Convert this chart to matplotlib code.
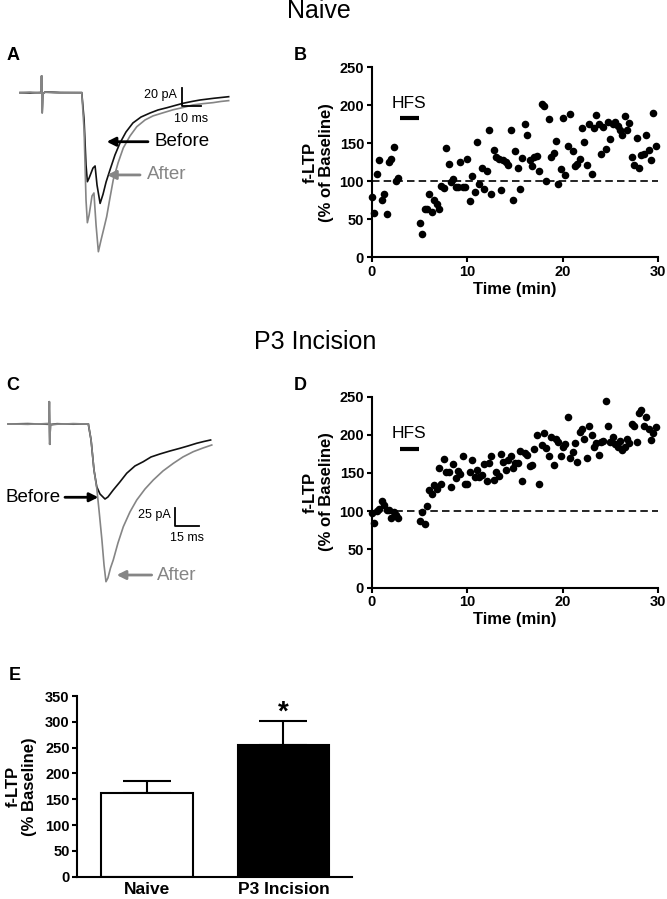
import matplotlib
matplotlib.use("Agg")
import matplotlib.pyplot as plt
import numpy as np

plt.rcParams['font.family'] = ['Liberation Sans', 'DejaVu Sans']

W, H = 667, 899
GREY = '#858585'

# ---- A: naive traces, time (ms) / current (pA)
a_before_t = [0, 5.2, 10.4, 11.0, 11.2, 11.5, 11.8, 13.0, 20.7, 32.0, 33.2, 34.2, 34.9, 35.8, 37.8,
              38.9, 39.9, 41.5, 43.0, 44.6, 46.6, 49.2, 51.8, 54.9, 58.5, 62.7, 67.4, 71.5, 76.2,
              80.3, 84.5, 89.1, 93.3, 100.5, 108.1]
a_before_i = [0, -0.3, 0.2, 0, 18.3, -21.9, -1.4, 0.8, 0.2, 0, -29.8, -79.0, -97.3, -93.3, -82.4,
              -80.1, -100.9, -121.0, -111.1, -97.6, -84.5, -68.1, -55.0, -43.0, -33.1, -26.6, -22.2,
              -18.9, -16.4, -14.0, -11.6, -9.6, -8.0, -6.1, -4.4]
a_after_t = [0, 5.2, 10.4, 11.0, 11.2, 11.5, 11.8, 13.0, 20.7, 32.0, 33.2, 34.2, 34.9, 35.8, 37.3,
             38.3, 39.4, 40.6, 42.0, 43.5, 44.9, 46.6, 48.3, 50.8, 53.5, 57.0, 60.5, 64.8, 68.9,
             74.1, 79.3, 84.5, 89.6, 94.8, 100.0, 104.1, 108.1]
a_after_i = [0, 0.4, -0.3, 0, 18.3, -21.9, -1.4, 0.5, -0.2, 0, -40.8, -117.3, -142.1, -133.7, -112.9,
             -109.6, -144.6, -173.8, -160.9, -147.9, -135.5, -115.1, -95.4, -76.8, -60.4, -47.3,
             -37.2, -29.8, -25.4, -22.0, -18.7, -16.2, -13.4, -12.0, -10.9, -9.6, -8.7]

# ---- C: P3 incision traces, time (ms) / current (pA)
c_before_t = [0, 12.0, 24.5, 25.1, 25.3, 25.6, 26.0, 30.0, 40.0, 49.4, 51.1, 52.9, 54.6, 56.6, 59.7,
              61.5, 64.8, 68.9, 73.1, 78.2, 83.3, 88.1, 93.6, 99.8, 106.0, 110.9, 116.3, 120.8, 124.9]
c_before_i = [0, 0.5, -0.4, 0, 32.0, -29.2, -1.0, 0.4, -0.3, 0, -23.0, -66.1, -90.1, -100.6, -107.8,
              -104.9, -94.8, -83.3, -70.8, -60.3, -54.2, -47.4, -43.1, -38.8, -34.9, -31.6, -27.7,
              -25.1, -23.0]
c_after_t = [0, 12.0, 24.5, 25.1, 25.3, 25.6, 26.0, 30.0, 40.0, 49.4, 51.1, 52.9, 54.6, 56.0, 57.8,
             59.1, 60.3, 61.5, 63.1, 64.8, 67.7, 71.0, 75.1, 79.3, 84.4, 89.5, 95.5, 101.9, 107.8,
             114.2, 120.2, 125.6]
c_after_i = [0, -0.4, 0.5, 0, 32.0, -29.2, -1.0, -0.3, 0.4, 0, -23.0, -66.1, -92.0, -123.6, -166.7,
             -202.6, -226.6, -221.3, -206.9, -195.4, -171.0, -147.6, -126.4, -109.2, -93.4, -80.5,
             -67.5, -56.5, -47.4, -39.8, -34.5, -30.2]

# ---- B / D: f-LTP time course (min, % of baseline)
ltp_time = [0.0, 0.28, 0.52, 0.8, 1.05, 1.29, 1.57, 1.81, 2.06, 2.3, 2.55, 2.79,
            5.02, 5.3, 5.55, 5.79, 6.03, 6.28, 6.56, 6.8, 7.05, 7.29, 7.53, 7.81, 8.06, 8.3, 8.55,
            8.79, 9.03, 9.28, 9.52, 9.77, 10.0, 10.25, 10.5, 10.78, 11.02, 11.27, 11.51, 11.79,
            12.03, 12.28, 12.52, 12.77, 13.01, 13.29, 13.53, 13.78, 14.02, 14.27, 14.55, 14.79,
            15.03, 15.28, 15.52, 15.77, 16.04, 16.29, 16.53, 16.78, 17.02, 17.27, 17.54, 17.79,
            18.03, 18.28, 18.52, 18.77, 19.04, 19.29, 19.53, 19.78, 20.02, 20.26, 20.51, 20.75,
            21.03, 21.28, 21.52, 21.76, 22.0, 22.25, 22.5, 22.78, 23.02, 23.26, 23.5, 23.75, 24.0,
            24.24, 24.49, 24.73, 24.97, 25.25, 25.5, 25.74, 25.99, 26.23, 26.47, 26.72, 26.96,
            27.24, 27.49, 27.73, 27.97, 28.22, 28.46, 28.74, 28.98, 29.23, 29.47, 29.75]
naive_ltp = [80, 58.8, 110, 128, 75, 83, 57, 125, 129, 145, 101, 104,
             45.6, 30.7, 64, 64, 83, 59, 75, 70, 63, 94, 91, 144, 123, 99, 103, 93, 92, 125, 93, 92,
             129, 74, 107, 86, 152, 96.5, 117.5, 89.5, 113, 168, 83, 141, 132, 130, 88.6, 128, 125,
             121, 168, 76, 140, 117, 90, 131, 176, 160.5, 128, 120, 132, 133, 113, 202, 199, 100,
             181.6, 131.6, 137, 152.6, 97, 116, 183, 108, 146.5, 188.6, 139.5, 120, 123, 129, 170,
             151.8, 122, 176, 110, 170, 187, 175, 136, 172, 142, 178, 156, 175, 178, 173, 168,
             160.5, 186, 167.5, 177, 132, 122, 157, 118, 135, 136, 161, 141, 128, 190, 147]
p3_ltp = [97.8, 84.7, 100, 103, 112.7, 108, 101, 102, 91, 98.7, 95, 91,
          87, 98.7, 83, 106.6, 128, 122, 133.6, 129, 157, 135, 168.6, 151, 151, 131, 161.6, 143,
          152, 149, 172, 136, 136, 151, 167, 145, 153.7, 145, 146.7, 161.6, 139.7, 163, 172, 140.6,
          151, 146, 174.7, 164, 153.7, 166.8, 172, 157, 162.5, 163, 179, 139, 176, 173.8, 159,
          160.7, 180.8, 199, 136, 186, 201.8, 182.5, 172, 196.5, 160, 194, 191, 172, 184, 188,
          223.6, 170, 178, 188.6, 164, 203.5, 207, 194.8, 169.4, 211, 200, 183.4, 188.6, 173.8,
          190, 192, 243.7, 212, 190, 197, 187.8, 184, 192, 180, 184, 194.8, 188.6, 214, 212, 191,
          228, 232, 212, 222.7, 207, 193, 201.8, 210.5]
hfs_span = [3.0, 4.9]

# ---- E: summary
groups = ['Naive', 'P3 Incision']
ltp_mean = [162, 255]
ltp_sem = [23, 47]


def px_box(x0, y0, x1, y1):
    return [x0 / W, 1 - y1 / H, (x1 - x0) / W, (y1 - y0) / H]


fig = plt.figure(figsize=(W / 100, H / 100), dpi=100)

fig.text(319 / W, 1 - 11 / H, 'Naive', ha='center', va='center', fontsize=18)
fig.text(315 / W, 1 - 342 / H, 'P3 Incision', ha='center', va='center', fontsize=18)
for letter, (lx, ly) in zip('ABCDE', [(13.5, 55), (300.5, 55), (12.5, 385), (300.5, 385), (14.5, 675.5)]):
    fig.text(lx / W, 1 - ly / H, letter, ha='center', va='center', fontsize=13, fontweight='bold')


def trace_panel(box, xlim, ylim, before, after, bar, before_arrow, after_arrow, before_left):
    ax = fig.add_axes(px_box(*box))
    ax.set_xlim(xlim)
    ax.set_ylim(ylim)
    ax.axis('off')
    ax.plot(before[0], before[1], color='#111111', lw=1.2)
    ax.plot(after[0], after[1], color=GREY, lw=1.2)
    ax.plot(after[0][:10], after[1][:10], color=GREY, lw=1.2, zorder=3)
    # scale bar
    bx, by, dt, di, tlab, ilab = bar
    ax.plot([bx, bx, bx + dt], [by + di, by, by], color='black', lw=1.3)
    ax.text(bx - 2.5, by + di * 0.62, ilab, ha='right', va='center', fontsize=9)
    ax.text(bx + dt / 2, by - di * 0.7, tlab, ha='center', va='center', fontsize=9)
    for (tail, head, yy), txt, col, right in [(before_arrow, 'Before', 'black', before_left),
                                              (after_arrow, 'After', GREY, False)]:
        ax.annotate('', xy=(head, yy), xytext=(tail, yy),
                    arrowprops=dict(arrowstyle='-|>', color=col, lw=2, mutation_scale=13,
                                    shrinkA=0, shrinkB=0))
        if right:
            ax.text(tail - 2.5, yy, txt, ha='right', va='center', fontsize=13.5, color=col)
        else:
            ax.text(tail + 3.5, yy, txt, ha='left', va='center', fontsize=13.5, color=col)
    return ax


trace_panel((0, 60, 330, 280), (-10.36, 160.6), (-204.7, 35.7),
            (a_before_t, a_before_i), (a_after_t, a_after_i),
            (83.8, -14.5, 10, 20, '10 ms', '20 pA'),
            (66.3, 44.9, -53.6), (62.2, 45.1, -89.9), False)
trace_panel((0, 380, 330, 600), (-5.12, 198.6), (-252.9, 63.2),
            (c_before_t, c_before_i), (c_after_t, c_after_i),
            (102.9, -146.1, 15, 25, '15 ms', '25 pA'),
            (35.0, 55.6, -105.3), (88.5, 66.9, -217.0), True)


def style_axes(ax):
    for side in ['top', 'right']:
        ax.spines[side].set_visible(False)
    for side in ['left', 'bottom']:
        ax.spines[side].set_linewidth(1.5)
    ax.tick_params(direction='out', length=3.5, width=1.5, labelsize=10.5, pad=2)
    for lab in ax.get_xticklabels() + ax.get_yticklabels():
        lab.set_fontweight('bold')


def ltp_panel(box, values, hfs_y):
    ax = fig.add_axes(px_box(*box))
    ax.scatter(ltp_time, values, s=30, color='black', zorder=3, clip_on=False, linewidths=0)
    ax.axhline(100, color='black', lw=1.2, dashes=(4.5, 2.5))
    ax.plot(hfs_span, [hfs_y, hfs_y], color='black', lw=3, solid_capstyle='butt')
    ax.text(np.mean(hfs_span), hfs_y + 20, 'HFS', ha='center', va='center', fontsize=12.5)
    ax.set_xlim(0, 30)
    ax.set_ylim(0, 250)
    ax.set_xticks([0, 10, 20, 30])
    ax.set_yticks([0, 50, 100, 150, 200, 250])
    ax.set_xlabel('Time (min)', fontsize=12, fontweight='bold', labelpad=2)
    ax.set_ylabel('f-LTP\n(% of Baseline)', fontsize=12, fontweight='bold', labelpad=4,
                  linespacing=1.1)
    style_axes(ax)
    return ax


ltp_panel((371.7, 67.3, 658.3, 257.3), naive_ltp, 183)
ltp_panel((371.7, 396.5, 658.3, 587.5), p3_ltp, 181.7)

ax = fig.add_axes(px_box(77.3, 696, 351.7, 876.7))
x = np.arange(len(groups))
ax.bar(x, ltp_mean, width=0.67, color=['white', 'black'], edgecolor='black', linewidth=1.5, zorder=2)
ax.errorbar(x, ltp_mean, yerr=[[0, 0], ltp_sem], fmt='none', ecolor='black', elinewidth=1.5,
            capsize=17, capthick=1.5, zorder=1)
ax.text(x[1], ltp_mean[1] + ltp_sem[1] - 9, '*', ha='center', va='bottom', fontsize=20,
        fontweight='bold')
ax.set_xlim(-0.51, 1.5)
ax.set_ylim(0, 350)
ax.set_yticks(np.arange(0, 351, 50))
ax.set_xticks(x)
ax.set_xticklabels(groups)
ax.set_ylabel('f-LTP\n(% Baseline)', fontsize=12, fontweight='bold', labelpad=6, linespacing=1.1)
style_axes(ax)
ax.tick_params(axis='x', length=0, labelsize=12.5, pad=4)
for lab in ax.get_xticklabels():
    lab.set_fontweight('bold')

fig.savefig('out.png', dpi=100)
